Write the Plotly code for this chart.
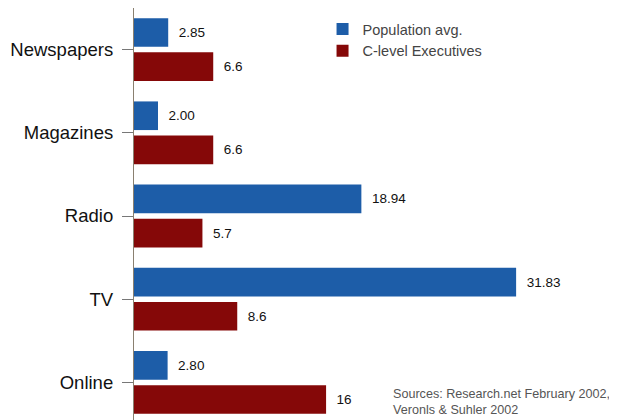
import plotly.graph_objects as go

categories = ["Newspapers", "Magazines", "Radio", "TV", "Online"]
population_avg = [2.85, 2.00, 18.94, 31.83, 2.80]
c_level_execs = [6.6, 6.6, 5.7, 8.6, 16]
series_names = ["Population avg.", "C-level Executives"]
source_text = "Sources: Research.net February 2002,<br>Veronls & Suhler 2002"

BLUE = "#1d5da8"
RED = "#850808"

pop_text = [f"{v:.2f}" for v in population_avg]
exec_text = [str(v) for v in c_level_execs]

fig = go.Figure()
fig.add_trace(go.Bar(
    y=categories, x=population_avg, orientation="h", name=series_names[0],
    marker=dict(color=BLUE, line=dict(width=0)),
    text=pop_text, textposition="outside", cliponaxis=False,
    textfont=dict(family="Liberation Sans, Arial, sans-serif", size=13.5, color="#111"),
))
fig.add_trace(go.Bar(
    y=categories, x=c_level_execs, orientation="h", name=series_names[1],
    marker=dict(color=RED, line=dict(width=0)),
    text=exec_text, textposition="outside", cliponaxis=False,
    textfont=dict(family="Liberation Sans, Arial, sans-serif", size=13.5, color="#111"),
))

fig.update_traces(texttemplate="  %{text}")

fig.update_layout(
    width=617, height=420,
    margin=dict(l=126, r=0, t=0, b=4, autoexpand=False),
    paper_bgcolor="white", plot_bgcolor="white",
    barmode="group", bargap=0.18, bargroupgap=0.16,
    font=dict(family="Liberation Sans, Arial, sans-serif", color="#111"),
    xaxis=dict(range=[0, 40.9], showgrid=False, zeroline=False, showticklabels=False,
               ticks="", showline=False, fixedrange=True, automargin=False),
    yaxis=dict(autorange="reversed", showgrid=False, zeroline=False,
               showline=True, linecolor="#8a8070", linewidth=1.2,
               ticks="outside", ticklen=11, tickcolor="#777", tickwidth=1.2,
               ticklabelstandoff=5, automargin=False,
               tickfont=dict(size=18.5, color="#111")),
    legend=dict(x=0.384, y=0.988, xanchor="left", yanchor="top",
                font=dict(size=14.5, color="#444"), bgcolor="rgba(0,0,0,0)",
                itemwidth=30, traceorder="normal"),
    annotations=[dict(
        text=source_text, xref="paper", yref="paper", x=0.523, y=0.011,
        xanchor="left", yanchor="bottom", align="left", showarrow=False,
        font=dict(size=12.6, color="#555"),
    )],
)

fig.write_html("out.html")
